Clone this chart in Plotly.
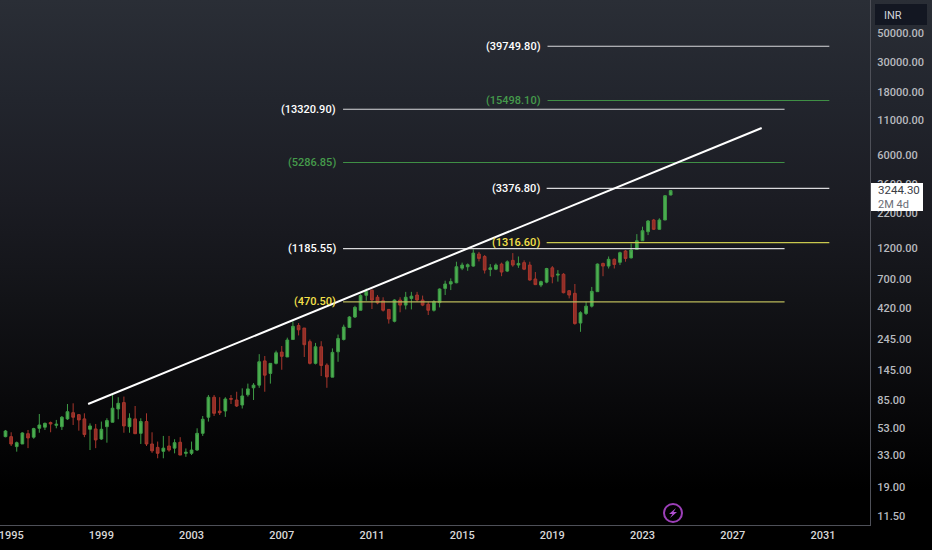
import math

import pandas as pd
import plotly.graph_objects as go

# velas trimestrales
fechas = pd.date_range("1994-10-01", periods=119, freq="QS")

aperturas = [45.4, 45.4, 38.2, 40, 47.8, 45, 52.5, 53.5, 58, 55.3, 54, 61.8, 68.8, 66.5, 61.8, 51.6, 51.9, 43.6, 54, 58.3,
             73.4, 82, 54, 61.8, 48.1, 59, 40, 37.7, 35.2, 38.6, 37.2, 41.2, 34, 34, 36, 48.1, 63.6, 90, 70.7, 70.9,
             88, 85.8, 78.6, 94, 106, 111, 169, 136, 162, 197, 181, 245, 312, 299, 236, 162, 216, 157, 127.5, 198,
             245, 302, 362, 407, 528, 576, 510, 480, 413, 336, 486, 445, 500, 530, 486, 452, 407, 465, 595, 642,
             656, 845, 866, 876, 1080, 1035, 825, 830, 907, 803, 967, 892, 930, 892, 700, 630, 663, 850, 749, 760,
             571, 546, 326, 385, 437, 562, 917, 876, 985, 935, 1138, 1010, 1170, 1360, 1590, 1948, 1658, 1948, 3006]
maximos = [51, 49, 41.7, 49, 51, 53, 67.3, 58, 59, 60.7, 65, 80, 81, 67.3, 68.1, 57.2, 56.6, 59, 62.5, 93.6,
           90, 91, 68.1, 77.3, 62.5, 68.1, 49, 41.7, 46, 46, 43.4, 45, 37, 41.7, 52.5, 65, 93.6, 93.6, 90, 90,
           93.6, 99, 105, 114, 115, 190, 184, 162, 202, 219, 253, 336, 326, 299, 245, 231, 238, 162, 210, 267,
           317, 368, 440, 537, 593, 583, 530, 510, 416, 492, 510, 560, 560, 560, 525, 472, 486, 595, 680, 708,
           945, 930, 917, 1170, 1120, 1061, 907, 917, 930, 967, 1097, 1035, 967, 945, 790, 680, 850, 876, 817, 775,
           578, 642, 400, 472, 610, 917, 930, 1035, 1000, 1125, 1158, 1295, 1525, 1735, 1948, 1985, 2008, 3006, 3280]
minimos = [44.9, 38.6, 35, 40, 37.2, 43.8, 48.6, 51, 49, 52.5, 51, 60.7, 55.6, 50.4, 45, 36, 37.2, 42.9, 40.9, 58.3,
           61.4, 48.6, 48.6, 47.5, 40, 38.6, 34.3, 31.2, 31.2, 35, 34, 33, 32, 33, 35.5, 46, 59, 65, 66.1, 64,
           80, 76, 74, 91, 85.8, 106, 99, 114, 159, 145, 181, 245, 263, 181, 159, 159, 130, 106, 127.5, 166.5,
           241, 299, 356, 407, 480, 416, 452, 398, 323, 330, 393, 413, 413, 472, 437, 375, 398, 428, 530, 578,
           650, 817, 807, 866, 950, 770, 735, 817, 735, 790, 866, 850, 817, 680, 630, 608, 650, 650, 669, 546,
           500, 317, 280, 375, 427, 560, 735, 840, 840, 892, 945, 1000, 1158, 1360, 1500, 1638, 1638, 1948, 2990]
cierres = [50.1, 40, 40.9, 48.4, 44.4, 52.2, 55.6, 57.2, 56.6, 56.3, 63.6, 70, 63.6, 60.7, 47.1, 54.7, 42.9, 51.6, 60, 74.4,
           81, 54.7, 62.5, 47.8, 59, 40, 35.5, 34, 37.2, 36, 40.9, 33, 34.6, 36, 48.1, 61.4, 90, 68.1, 68.8, 87.3,
           87, 77.3, 92, 104, 111, 166.5, 132, 162, 194.6, 183, 243, 308, 290, 224, 162, 216, 156, 128, 196, 249,
           304, 362, 428, 525, 563, 486, 462, 407, 350, 486, 445, 510, 520, 486, 445, 407, 472, 588, 642, 669,
           866, 892, 897, 1097, 1000, 817, 850, 892, 790, 943, 892, 917, 830, 688, 635, 669, 840, 728, 760, 552,
           530, 323, 390, 437, 565, 907, 876, 985, 900, 1105, 1000, 1158, 1360, 1618, 1915, 1658, 1948, 2970, 3244.3]

# niveles horizontales
niveles = [39749.80, 15498.10, 13320.90, 5286.85, 3376.80, 1316.60, 1185.55, 470.50]
etiquetas = ["(39749.80)", "(15498.10)", "(13320.90)", "(5286.85)", "(3376.80)", "(1316.60)", "(1185.55)", "(470.50)"]
inicio_nivel = ["2018-10-15", "2018-10-15", "2009-09-20", "2009-09-20", "2018-10-01", "2018-10-01", "2009-09-20", "2009-09-20"]
fin_nivel = ["2031-04-15", "2031-04-15", "2029-04-20", "2029-04-20", "2031-04-15", "2031-04-15", "2029-04-20", "2029-04-20"]
color_linea = ["#d9d9dc", "#3f8f45", "#d9d9dc", "#3f8f45", "#d9d9dc", "#c9c84e", "#d9d9dc", "#b9b85a"]
color_texto = ["#ffffff", "#459a4b", "#ffffff", "#459a4b", "#ffffff", "#f5e04a", "#ffffff", "#f5e04a"]

# linea de tendencia
tendencia_x = ["1998-06-01", "2028-04-15"]
tendencia_y = [80, 9618]

ticks_y = [50000, 30000, 18000, 11000, 6000, 3600, 2200, 1200, 700, 420, 245, 145, 85, 53, 33, 19, 11.5]

fig = go.Figure()

fig.add_trace(go.Candlestick(
    x=fechas,
    open=aperturas,
    high=maximos,
    low=minimos,
    close=cierres,
    whiskerwidth=0,
    increasing=dict(line=dict(color="#3e9c46", width=1), fillcolor="#4caf50"),
    decreasing=dict(line=dict(color="#a8362c", width=1), fillcolor="#8f2f28"),
    showlegend=False,
))

anotaciones = []
for i in range(len(niveles)):
    fig.add_trace(go.Scatter(
        x=[inicio_nivel[i], fin_nivel[i]],
        y=[niveles[i], niveles[i]],
        mode="lines",
        line=dict(color=color_linea[i], width=1.2),
        showlegend=False,
    ))
    anotaciones.append(dict(
        x=inicio_nivel[i], y=math.log10(niveles[i]),
        xref="x", yref="y",
        text=etiquetas[i],
        showarrow=False,
        xanchor="right",
        yanchor="middle",
        xshift=-5,
        font=dict(family="Roboto", size=11, color=color_texto[i], weight=500),
    ))

fig.add_trace(go.Scatter(
    x=tendencia_x,
    y=tendencia_y,
    mode="lines",
    line=dict(color="#ffffff", width=2),
    showlegend=False,
))

alto = 525
formas = []

# caja INR
formas.append(dict(
    type="rect", xref="paper", yref="paper", layer="above",
    x0=875 / 870, x1=927 / 870, y0=(alto - 25) / alto, y1=(alto - 4) / alto,
    fillcolor="#131722", line=dict(width=0),
))
# caja del precio
formas.append(dict(
    type="rect", xref="paper", yref="paper", layer="above",
    x0=871 / 870, x1=923 / 870, y0=(alto - 211) / alto, y1=(alto - 183) / alto,
    fillcolor="#ffffff", line=dict(width=0),
))
# icono del rayo
formas.append(dict(
    type="circle", xref="paper", yref="paper", layer="above",
    x0=664 / 870, x1=682 / 870, y0=(alto - 522) / alto, y1=(alto - 504) / alto,
    fillcolor="rgba(0,0,0,0)", line=dict(color="#9c3fb8", width=2),
))
formas.append(dict(
    type="path", xref="paper", yref="paper", layer="above",
    xsizemode="pixel", ysizemode="pixel", xanchor=673 / 870, yanchor=(alto - 513) / alto,
    path="M 3 5 L -4 -1 L -0.5 -1 L -3 -5 L 4 1 L 0.5 1 Z",
    fillcolor="#b04fd0", line=dict(width=0),
))
fig.update_layout(shapes=formas)

anotaciones.append(dict(
    x=882 / 870, y=(alto - 15) / alto, xref="paper", yref="paper", text="INR",
    showarrow=False, xanchor="left", yanchor="middle",
    font=dict(family="Roboto", size=11, color="#d1d4dc"),
))
anotaciones.append(dict(
    x=878 / 870, y=(alto - 190) / alto, xref="paper", yref="paper", text="3244.30",
    showarrow=False, xanchor="left", yanchor="middle", xshift=-2,
    font=dict(family="Roboto", size=11.5, color="#3a3d45"),
))
anotaciones.append(dict(
    x=878 / 870, y=(alto - 204) / alto, xref="paper", yref="paper", text="2M 4d",
    showarrow=False, xanchor="left", yanchor="middle", xshift=-2,
    font=dict(family="Roboto", size=11, color="#6a6d75"),
))

fig.update_layout(
    width=932,
    height=550,
    margin=dict(l=0, r=62, t=0, b=25),
    paper_bgcolor="rgba(0,0,0,0)",
    plot_bgcolor="rgba(0,0,0,0)",
    showlegend=False,
    annotations=anotaciones,
    xaxis=dict(
        type="date",
        range=["1994-07-04", "2033-02-02"],
        rangeslider=dict(visible=False),
        tick0="1995-01-01",
        dtick="M48",
        tickformat="%Y",
        ticklabeloverflow="allow",
        showgrid=False,
        zeroline=False,
        showline=True,
        linecolor="#4e5058",
        linewidth=1,
        ticks="",
        tickfont=dict(family="Roboto", size=11, color="#d8d8d8", weight=500),
    ),
    yaxis=dict(
        type="log",
        side="right",
        range=[0.9914, 4.9477],
        tickvals=ticks_y,
        ticktext=["%.2f" % v for v in ticks_y],
        showgrid=False,
        zeroline=False,
        showline=True,
        linecolor="#4e5058",
        linewidth=1,
        ticks="",
        ticklabelstandoff=4,
        tickfont=dict(family="Roboto", size=11, color="#b8babf", weight=500),
    ),
)

# fondo degradado en la pagina, y sin el margen del body
fondo = ("linear-gradient(180deg,#2a2e36 0px,#22252d 100px,#1b1c23 200px,"
         "#121317 300px,#09090b 400px,#000 490px)")
fig.write_html("out.html", config=dict(displayModeBar=False),
               post_script="document.body.style.margin='0';document.body.style.height='550px';"
                           "document.body.style.background='%s';" % fondo)
